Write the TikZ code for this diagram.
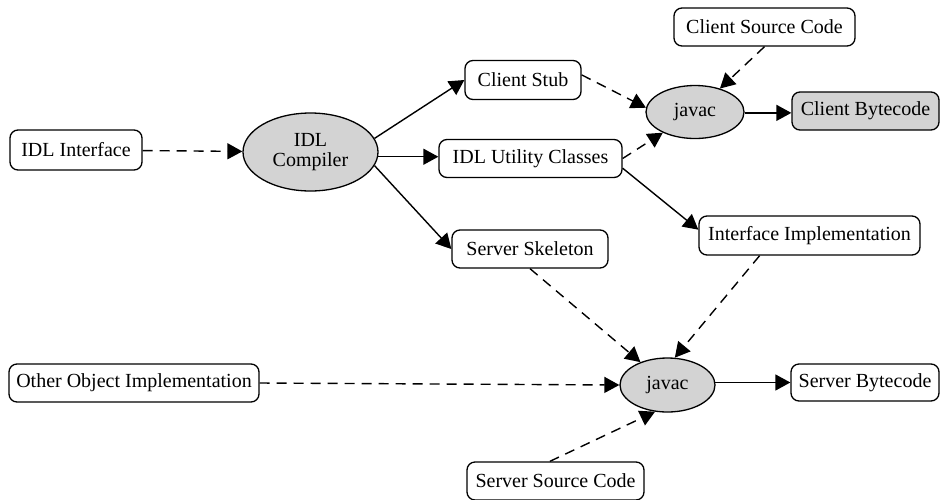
\documentclass[tikz,border=0pt]{standalone}
\usepackage{fontspec}
\setmainfont{Liberation Serif}
\usetikzlibrary{arrows.meta,shapes.geometric}
\definecolor{procfill}{RGB}{211,211,211}
\begin{document}
\begin{tikzpicture}[x=1pt,y=-1pt,
  every node/.style={font=\fontsize{20}{20}\selectfont},
  box/.style={draw,rounded corners=8pt,line width=1.3pt,inner sep=0pt,align=center},
  proc/.style={draw,ellipse,fill=procfill,line width=1.3pt,inner sep=0pt,align=center},
  flow/.style={line width=1.4pt,-{Triangle[length=15pt,width=16pt]}},
  feed/.style={flow,dash pattern=on 10pt off 7pt}]
\useasboundingbox (0,0) rectangle (940,499);

% sources and generated files
\node[box,minimum width=132pt,minimum height=40pt] (idl) at (76,150) {IDL Interface};
\node[proc,minimum width=135pt,minimum height=78pt] (compiler) at (310.5,152) {IDL\\Compiler};
\node[box,minimum width=116pt,minimum height=39pt] (stub) at (523,80) {Client Stub};
\node[box,minimum width=183pt,minimum height=38pt] (util) at (530.5,158.5) {IDL Utility Classes};
\node[box,minimum width=156pt,minimum height=38pt] (skel) at (530,249) {Server Skeleton};
\node[box,minimum width=181pt,minimum height=38pt] (csrc) at (764.5,27) {Client Source Code};
\node[box,minimum width=221pt,minimum height=39pt] (impl) at (809.5,235.5) {Interface Implementation};
\node[box,minimum width=250pt,minimum height=38pt] (other) at (134,383) {Other Object Implementation};
\node[box,minimum width=177pt,minimum height=38pt] (ssrc) at (555.5,481) {Server Source Code};

% compilers and outputs
\node[proc,minimum width=98pt,minimum height=53pt] (javacA) at (695,112) {javac};
\node[box,fill=procfill,minimum width=147pt,minimum height=38pt] (cbyte) at (865.5,111) {Client Bytecode};
\node[proc,minimum width=95pt,minimum height=54pt] (javacB) at (667.5,385) {javac};
\node[box,minimum width=148pt,minimum height=37pt] (sbyte) at (865,382.5) {Server Bytecode};

% IDL compilation
\draw[feed] (idl) -- (compiler);
\draw[flow] (compiler.12) -- (stub.west);
\draw[flow] (compiler.-4) -- (compiler.-4 -| util.west);
\draw[flow] (compiler.-12) -- (skel.west);

% client build
\draw[feed] (stub.5) -- (javacA.175);
\draw[feed] (util.east) -- (javacA);
\draw[feed] (csrc.south) -- (javacA);
\draw[flow] (javacA.-1) -- (javacA.-1 -| cbyte.west);

% server build
\draw[flow] (util.-6) -- (impl.177);
\draw[feed] (skel.south) -- (javacB);
\draw[feed] (impl.202) -- (javacB.75);
\draw[feed] (other.east) -- (javacB.west);
\draw[feed] (ssrc.106) -- (javacB.245);
\draw[flow] (javacB.3) -- (javacB.3 -| sbyte.west);
\end{tikzpicture}
\end{document}
